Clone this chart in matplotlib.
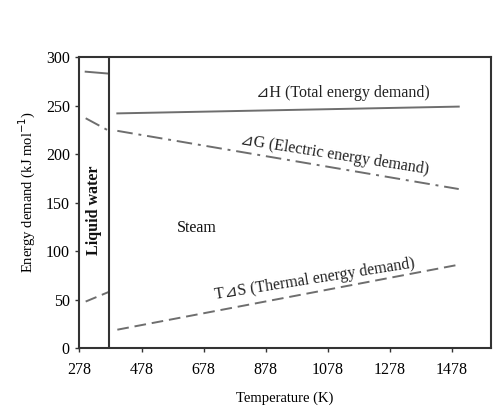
import matplotlib
matplotlib.use("Agg")
import matplotlib.pyplot as plt

# data
T_liquid = [298, 373]
H_liquid = [285, 283]
G_liquid = [237, 224]
TS_liquid = [48, 58]
T_steam = [400, 1500]
H_steam = [242, 249]
G_steam = [224, 164]
TS_steam = [19, 86]
T_boil = 373
x_ticks = [278, 478, 678, 878, 1078, 1278, 1478]
y_ticks = [0, 50, 100, 150, 200, 250, 300]

fam = ['Liberation Serif', 'DejaVu Serif', 'DejaVu Sans']
plt.rcParams['font.family'] = fam

fig = plt.figure(figsize=(4.99, 4.11), dpi=100)
ax = fig.add_axes([0.158, 0.153, 0.826, 0.708])

col = '#6e6e6e'
ax.plot(T_liquid, H_liquid, color=col, lw=1.4, ls='-')
ax.plot(T_steam, H_steam, color=col, lw=1.4, ls='-')
ax.plot(T_liquid, G_liquid, color=col, lw=1.4, ls=(0, (8, 3, 1.5, 3)))
ax.plot(T_steam, G_steam, color=col, lw=1.4, ls=(0, (8, 3, 1.5, 3)))
ax.plot(T_liquid, TS_liquid, color=col, lw=1.4, ls=(0, (6, 3)))
ax.plot(T_steam, TS_steam, color=col, lw=1.4, ls=(0, (6, 3)))
ax.axvline(T_boil, color='#333333', lw=1.5)

ax.set_xlim(276, 1604)
ax.set_ylim(0, 300)
ax.set_xticks(x_ticks)
ax.set_yticks(y_ticks)
ax.tick_params(labelsize=11.5, length=3, width=1, color='#333333', direction='out')
ax.tick_params(axis='x', pad=7)
for s in ax.spines.values():
    s.set_color('#333333')
    s.set_linewidth(1.5)

ax.set_xlabel('Temperature (K)', fontsize=10.5, labelpad=10)
ax.set_ylabel('Energy demand (kJ mol$^{-1}$)', fontsize=10.5)
ax.yaxis.set_label_coords(-0.10, 0.535)

ax.text(846, 259, '⊿H (Total energy demand)', fontsize=11.5, color='#222222')
ax.text(794, 210, '⊿G (Electric energy demand)', fontsize=11.5, color='#222222',
        rotation=-9, rotation_mode='anchor')
ax.text(717, 51, 'T⊿S (Thermal energy demand)', fontsize=11.5, color='#222222',
        rotation=9, rotation_mode='anchor')
ax.text(326, 142, 'Liquid water', fontsize=11.5, rotation=90, ha='center', va='center',
        color='#111111', fontweight='bold')
ax.text(655, 124, 'Steam', fontsize=11.5, ha='center', va='center', color='#111111')

fig.savefig('out.png', dpi=100)
